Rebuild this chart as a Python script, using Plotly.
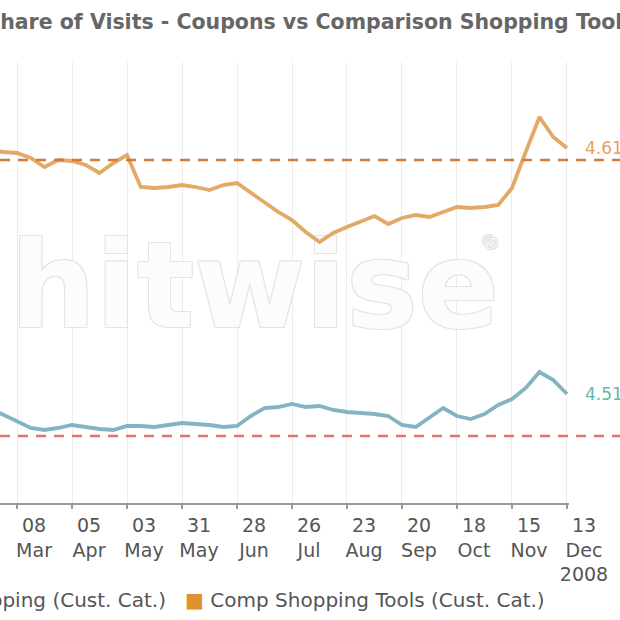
import plotly.graph_objects as go

# Weekly dates (week ending Saturday), 2008
weeks = ["2008-02-23", "2008-03-01", "2008-03-08", "2008-03-15", "2008-03-22", "2008-03-29",
         "2008-04-05", "2008-04-12", "2008-04-19", "2008-04-26", "2008-05-03", "2008-05-10",
         "2008-05-17", "2008-05-24", "2008-05-31", "2008-06-07", "2008-06-14", "2008-06-21",
         "2008-06-28", "2008-07-05", "2008-07-12", "2008-07-19", "2008-07-26", "2008-08-02",
         "2008-08-09", "2008-08-16", "2008-08-23", "2008-08-30", "2008-09-06", "2008-09-13",
         "2008-09-20", "2008-09-27", "2008-10-04", "2008-10-11", "2008-10-18", "2008-10-25",
         "2008-11-01", "2008-11-08", "2008-11-15", "2008-11-22", "2008-11-29", "2008-12-06",
         "2008-12-13"]

# Comp Shopping Tools (Cust. Cat.) - share of visits (%)
comp_shopping = [4.59, 4.57, 4.56, 4.51, 4.42, 4.49, 4.48, 4.44, 4.36, 4.46, 4.54, 4.22,
                 4.21, 4.22, 4.24, 4.22, 4.19, 4.24, 4.26, 4.16, 4.06, 3.97, 3.89, 3.77,
                 3.67, 3.76, 3.82, 3.87, 3.93, 3.85, 3.91, 3.94, 3.92, 3.97, 4.02, 4.01,
                 4.02, 4.04, 4.21, 4.57, 4.92, 4.72, 4.61]

# Coupon Shopping (Cust. Cat.) - share of visits (%)
coupons = [4.37, 4.30, 4.23, 4.17, 4.15, 4.17, 4.20, 4.18, 4.16, 4.15, 4.19, 4.19,
           4.18, 4.20, 4.22, 4.21, 4.20, 4.18, 4.19, 4.29, 4.37, 4.38, 4.41, 4.38,
           4.39, 4.35, 4.33, 4.32, 4.31, 4.29, 4.20, 4.18, 4.27, 4.37, 4.29, 4.26,
           4.31, 4.40, 4.46, 4.57, 4.73, 4.65, 4.51]

# Reference (average) lines
comp_ref = 4.49
coupon_ref = 4.09

tick_dates = ["2008-03-08", "2008-04-05", "2008-05-03", "2008-05-31", "2008-06-28",
              "2008-07-26", "2008-08-23", "2008-09-20", "2008-10-18", "2008-11-15",
              "2008-12-13"]
tick_labels = ["08<br>Mar", "05<br>Apr", "03<br>May", "31<br>May", "28<br>Jun",
               "26<br>Jul", "23<br>Aug", "20<br>Sep", "18<br>Oct", "15<br>Nov",
               "13<br>Dec<br>2008"]

title_text = "Share of Visits - Coupons vs Comparison Shopping Tools"
coupon_name = "Coupon Shopping (Cust. Cat.)"
comp_name = "Comp Shopping Tools (Cust. Cat.)"

ORANGE = "#e2a967"
BLUE = "#84b4c2"
FONT = "DejaVu Sans"
X_START = "2008-02-28 08:00"
X_END = "2009-01-09"

fig = go.Figure()

# watermark
fig.add_trace(go.Scatter(
    x=["2008-07-07"], y=[3.12], mode="text", text=["hitwise"], yaxis="y",
    textfont=dict(family=FONT, size=120, color="#fcfcfc", weight="bold",
                  shadow="1px 1px 0 #e4e4e4, -1px -1px 0 #e4e4e4, 1px -1px 0 #e4e4e4, -1px 1px 0 #e4e4e4"),
    hoverinfo="skip", showlegend=False, cliponaxis=False))

fig.add_trace(go.Scatter(x=weeks, y=comp_shopping, mode="lines", name=comp_name,
                         line=dict(color=ORANGE, width=3.8), yaxis="y"))
fig.add_trace(go.Scatter(x=weeks, y=coupons, mode="lines", name=coupon_name,
                         line=dict(color=BLUE, width=3.8), yaxis="y2"))

# dashed reference lines
fig.add_shape(type="line", xref="paper", x0=0, x1=1, yref="y", y0=comp_ref, y1=comp_ref,
              line=dict(color="#d27a3c", width=2.5, dash="10px,8px"))
fig.add_shape(type="line", xref="paper", x0=0, x1=1, yref="y2", y0=coupon_ref, y1=coupon_ref,
              line=dict(color="#e57070", width=2.5, dash="10px,8px"))

# hide axis line beyond the last data week
fig.add_shape(type="rect", xref="x", x0="2008-12-14", x1=X_END, yref="paper", y0=-0.008, y1=0.008,
              fillcolor="white", line=dict(width=0))

# end-value labels
fig.add_annotation(x="2008-12-21", y=comp_shopping[-1], yref="y", xanchor="left", yanchor="middle",
                   text="%.2f%%" % comp_shopping[-1], showarrow=False,
                   font=dict(family=FONT, size=17, color="#e8a060"))
fig.add_annotation(x="2008-12-21", y=coupons[-1], yref="y2", xanchor="left", yanchor="middle",
                   text="%.2f%%" % coupons[-1], showarrow=False,
                   font=dict(family=FONT, size=17, color="#62b8ac"))

# registered mark of watermark
fig.add_annotation(x="2008-11-04", y=3.12, yref="y", xanchor="center", yanchor="middle", yshift=55,
                   text="®", showarrow=False,
                   font=dict(family=FONT, size=20, color="#f4f4f4",
                             shadow="1px 1px 0 #dcdcdc, -1px -1px 0 #dcdcdc"))

# legend (as text row)
fig.add_annotation(xref="paper", yref="paper", x=0.882, y=-0.22, xanchor="right", yanchor="middle",
                   text=("<span style='color:#4fa7d6'>■</span> " + coupon_name +
                         "   <span style='color:#e0902c'>■</span> " + comp_name),
                   showarrow=False, font=dict(family=FONT, size=20, color="#555555"))

fig.update_layout(
    width=620, height=620,
    margin=dict(l=0, r=0, t=62, b=117),
    paper_bgcolor="white", plot_bgcolor="white",
    showlegend=False,
    title=dict(text=title_text, x=0.5, xanchor="center", y=1 - 22 / 620, yanchor="middle",
               yref="container",
               font=dict(family=FONT, size=20.5, color="#666666", weight="bold")),
    xaxis=dict(type="date", range=[X_START, X_END],
               tickvals=tick_dates, ticktext=tick_labels, ticklabelshift=17,
               ticks="outside", ticklen=4, tickcolor="#9a9a9a", tickwidth=1.5,
               showgrid=True, gridcolor="#ececec", gridwidth=1,
               showline=True, linecolor="#9a9a9a", linewidth=2, zeroline=False,
               tickfont=dict(family=FONT, size=19, color="#555555")),
    yaxis=dict(range=[1.06, 5.47], visible=False),
    yaxis2=dict(range=[3.42, 7.83], visible=False, overlaying="y"),
)

fig.write_html("out.html", config={"displayModeBar": False},
               post_script="document.body.style.margin='0';")
